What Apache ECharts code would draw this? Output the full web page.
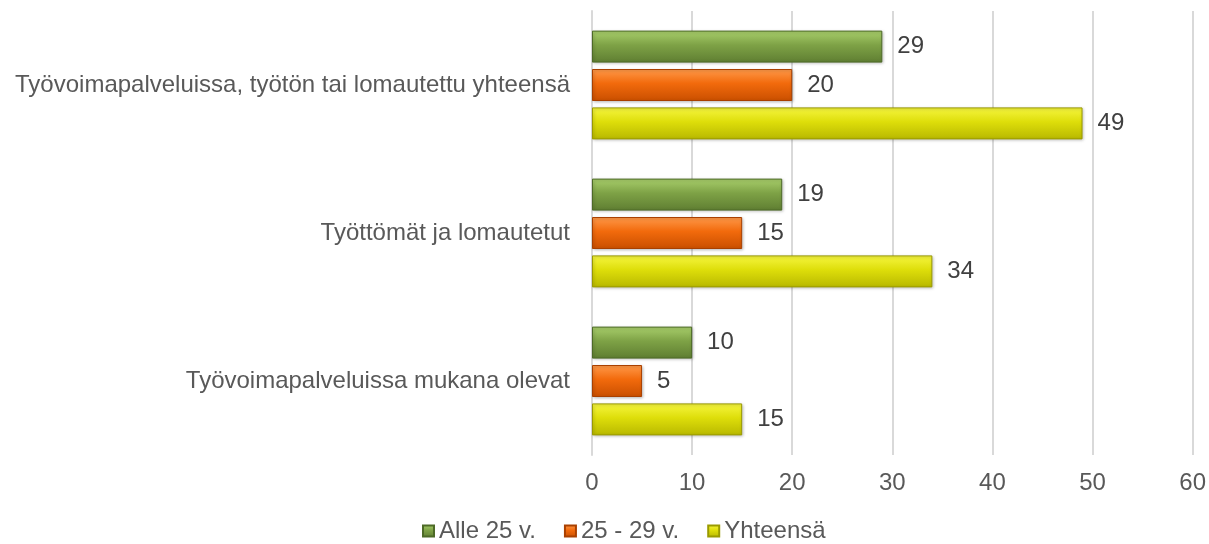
<!DOCTYPE html>
<html>
<head>
<meta charset="utf-8">
<script src="https://cdn.jsdelivr.net/npm/echarts@6/dist/echarts.min.js"></script>
<style>
  html, body { margin: 0; padding: 0; background: #fff; }
  #main { width: 1209px; height: 544px; }
</style>
</head>
<body>
<div id="main"></div>
<script>
const categories = [
  'Työvoimapalveluissa, työtön tai lomautettu yhteensä',
  'Työttömät ja lomautetut',
  'Työvoimapalveluissa mukana olevat'
];
const alle25 = [29, 19, 10];
const v25to29 = [20, 15, 5];
const yhteensa = [49, 34, 15];

const FONT = 'Liberation Sans, Arial, sans-serif';
const chart = echarts.init(document.getElementById('main'));

function grad(top, mid, bottom) {
  return new echarts.graphic.LinearGradient(0, 0, 0, 1, [
    { offset: 0, color: top },
    { offset: 0.45, color: mid },
    { offset: 1, color: bottom }
  ]);
}

const styles = [
  { fill: grad('#a9cf6c', '#7ea246', '#5f7e32'), border: '#4d6a27' },
  { fill: grad('#ff9a4a', '#f26a0c', '#c94f00'), border: '#a94000' },
  { fill: grad('#f6f640', '#dede0a', '#b8b800'), border: '#9a9a00' }
];

function makeSeries(name, data, s) {
  return {
    name: name,
    type: 'bar',
    data: data,
    barWidth: 32,
    barGap: '20%',
    itemStyle: { color: s.fill, borderColor: s.border, borderWidth: 1,
      shadowColor: 'rgba(0,0,0,0.25)', shadowBlur: 3, shadowOffsetX: 1, shadowOffsetY: 1 },
    label: {
      show: true, position: 'right', distance: 15,
      color: '#404040', fontSize: 24, fontFamily: FONT
    }
  };
}

chart.setOption({
  animation: false,
  grid: { left: 592, right: 16, top: 11, bottom: 89 },
  legend: {
    top: 514,
    left: 417,
    itemWidth: 11,
    itemHeight: 11,
    itemGap: 28,
    icon: 'rect',
    textStyle: { color: '#595959', fontSize: 24, fontFamily: FONT, padding: [0, 0, 0, 0] },
    data: ['Alle 25 v.', '25 - 29 v.', 'Yhteensä']
  },
  xAxis: {
    type: 'value',
    min: 0, max: 60, interval: 10,
    axisLine: { show: false },
    axisTick: { show: false },
    splitLine: { lineStyle: { color: '#d9d9d9', width: 2 } },
    axisLabel: { color: '#595959', fontSize: 24, margin: 16, fontFamily: FONT }
  },
  yAxis: {
    type: 'category',
    data: categories,
    inverse: true,
    axisLine: { lineStyle: { color: '#d9d9d9', width: 2 } },
    axisTick: { show: false },
    axisLabel: { color: '#595959', fontSize: 24, margin: 22, fontFamily: FONT }
  },
  series: [
    makeSeries('Alle 25 v.', alle25, styles[0]),
    makeSeries('25 - 29 v.', v25to29, styles[1]),
    makeSeries('Yhteensä', yhteensa, styles[2])
  ]
});
</script>
</body>
</html>
